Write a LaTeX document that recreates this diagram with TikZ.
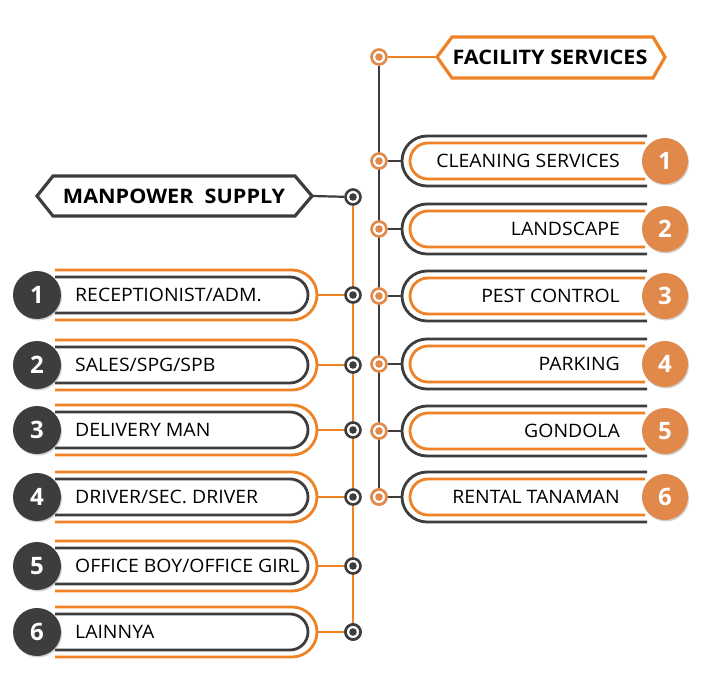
\documentclass[tikz,border=0pt]{standalone}
\usepackage{fontspec}
\usepackage{graphicx}
\setmainfont{Open Sans}
\usetikzlibrary{shadows}
\definecolor{dk}{HTML}{3D3D3D}
\definecolor{org}{HTML}{EF8225}
\definecolor{orgf}{HTML}{E0894A}
\newcommand{\itx}[1]{\scalebox{1.05}[1]{#1}}
\newcommand{\htx}[1]{\scalebox{1.08}[1]{#1}}
\tikzset{
  numL/.style={circle,fill=dk,minimum size=48pt,inner sep=0pt,text=white,font=\bfseries\fontsize{24}{26}\selectfont,drop shadow={opacity=0.35,shadow xshift=1pt,shadow yshift=-1.5pt}},
  numR/.style={circle,fill=orgf,minimum size=46pt,inner sep=0pt,text=white,font=\bfseries\fontsize{24}{26}\selectfont,drop shadow={opacity=0.35,shadow xshift=1pt,shadow yshift=-1.5pt}},
  dotL/.style={circle,draw=dk,line width=2.6pt,fill=white,minimum size=15pt,inner sep=0pt,path picture={\fill[dk] (path picture bounding box.center) circle (3.8pt);}},
  dotR/.style={circle,draw=orgf,line width=2.6pt,fill=white,minimum size=15pt,inner sep=0pt,path picture={\fill[orgf] (path picture bounding box.center) circle (3.8pt);}},
  itemtxt/.style={font=\fontsize{18.5}{20}\selectfont,text=black,inner sep=0pt},
  headtxt/.style={font=\bfseries\fontsize{20}{22}\selectfont,text=black,inner sep=0pt},
  lw/.style={line width=2.8pt}
}
\begin{document}
\begin{tikzpicture}[x=1pt,y=-1pt]
\useasboundingbox[fill=white] (0,0) rectangle (723,685);
% headers
\draw[dk,line width=3.2pt,line join=miter,fill=white] (37,196) -- (53,176) -- (295,176) -- (312,196) -- (295,216) -- (53,216) -- cycle;
\node[headtxt] (mp) at (174,196.5) {\htx{MANPOWER\ \ SUPPLY}};
\coordinate (mpR) at (312,196);
\draw[org,line width=3.2pt,line join=miter,fill=white] (437,57) -- (452,37) -- (653,37) -- (665,57) -- (653,78) -- (452,78) -- cycle;
\node[headtxt] (fs) at (550,57.5) {\htx{FACILITY SERVICES}};
\coordinate (fsL) at (437,57);
% spines
\node[dotL] (mpd) at (353,197) {};
\node[dotR] (fsd) at (379,57) {};
\node[dotL] (ld6) at (353,632) {};
\node[dotR] (rd6) at (379,497) {};
\draw[org,line width=2.2pt] (mpd) -- (ld6);
\draw[dk,line width=2.2pt] (fsd) -- (rd6);
\draw[dk,line width=2.2pt] (mpR) -- (mpd);
\draw[org,line width=2.2pt] (fsd) -- (fsL);
% left items
\foreach \i/\y/\t in {1/295/{RECEPTIONIST/ADM.},2/365/{SALES/SPG/SPB},3/430/{DELIVERY MAN},4/497/{DRIVER/SEC. DRIVER},5/566/{OFFICE BOY/OFFICE GIRL},6/632/{LAINNYA}}{
  \draw[org,lw] (55,\y-25) -- (292,\y-25) arc[start angle=90,end angle=-90,radius=25pt] -- (55,\y+25);
  \draw[dk,lw] (55,\y-18) -- (290,\y-18) arc[start angle=90,end angle=-90,radius=18pt] -- (55,\y+18);
  \coordinate (le\i) at (318,\y);
  \node[dotL] (ld\i) at (353,\y) {};
  \draw[org,line width=2.2pt] (le\i) -- (ld\i);
  \node[itemtxt,anchor=west] (lt\i) at (75,\y) {\itx{\t}};
  \node[numL] (ln\i) at (37,\y) {\i};
}
% right items
\foreach \i/\y/\t in {1/161/{CLEANING SERVICES},2/229/{LANDSCAPE},3/296/{PEST CONTROL},4/364/{PARKING},5/431/{GONDOLA},6/497/{RENTAL TANAMAN}}{
  \draw[dk,lw] (647,\y-25) -- (427,\y-25) arc[start angle=90,end angle=270,radius=25pt] -- (647,\y+25);
  \draw[org,lw] (645,\y-18) -- (428,\y-18) arc[start angle=90,end angle=270,radius=18pt] -- (645,\y+18);
  \coordinate (re\i) at (402,\y);
  \node[dotR] (rd\i) at (379,\y) {};
  \draw[dk,line width=2.2pt] (rd\i) -- (re\i);
  \node[itemtxt,anchor=east] (rt\i) at (620,\y) {\itx{\t}};
  \node[numR] (rn\i) at (665,\y) {\i};
}
\end{tikzpicture}
\end{document}
